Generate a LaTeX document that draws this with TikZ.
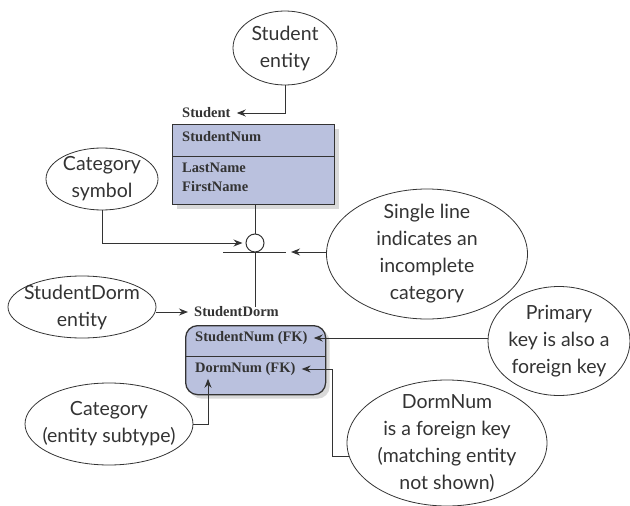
\documentclass[tikz,border=0pt]{standalone}
\usepackage{fontspec}
\usepackage{xcolor}
\usepackage{tikz}
\usetikzlibrary{positioning, arrows.meta, shapes.geometric, shadows}
\newfontfamily\notefont{Lato}
\newfontfamily\entfont{Liberation Serif}
\definecolor{EntityFill}{RGB}{186,193,222}
\definecolor{nInk}{HTML}{333333}

\begin{document}
\begin{tikzpicture}[x=1pt, y=-1pt, >=Stealth,
    note/.style={draw=nInk, line width=0.8pt, ellipse, inner sep=-15pt, align=center, text=nInk, font=\notefont\fontsize{19.5}{27}\selectfont},
    attr/.style={anchor=west, inner xsep=3pt, inner ysep=0pt, text=nInk, font=\entfont\bfseries\fontsize{14.5}{16}\selectfont},
    box/.style={draw=nInk, line width=1.3pt, fill=EntityFill, anchor=north west, drop shadow={shadow xshift=4pt, shadow yshift=-4pt, opacity=0.3}},
    arr/.style={line width=1pt, nInk, shorten >=3pt, -{Stealth[length=9pt, width=7pt]}},
    link/.style={line width=1pt, nInk}]
  \useasboundingbox (0,0) rectangle (630,506);
  % notes
  \node[note, minimum width=104, minimum height=74] (stuNote) at (285,48) {Student\\entity};
  \node[note, minimum width=112, minimum height=62] (catNote) at (102,179) {Category\\symbol};
  \node[note, minimum width=201, minimum height=130] (singleNote) at (427,254) {Single line\\indicates an\\incomplete\\category};
  \node[note, minimum width=148, minimum height=62] (dormNote) at (82,307) {StudentDorm\\entity};
  \node[note, minimum width=142, minimum height=109] (pkNote) at (559,341) {Primary\\key is also a\\foreign key};
  \node[note, minimum width=200, minimum height=126] (fkNote) at (447,443) {DormNum\\is a foreign key\\(matching entity\\not shown)};
  \node[note, minimum width=168, minimum height=82] (subNote) at (109,424) {Category\\(entity subtype)};
  % Student entity
  \node[box, minimum width=162, minimum height=80] (stu) at (172,124) {};
  \coordinate (stuDiv) at (172,156);
  \draw[link] (stuDiv) -- (stuDiv -| stu.east);
  \node[attr] (stuLabel) at (179,113) {Student};
  \node[attr] (stuKey) at (179,137) {StudentNum};
  \node[attr] (stuLast) at (179,168) {LastName};
  \node[attr] (stuFirst) at (179,187) {FirstName};
  % StudentDorm entity
  \node[box, rounded corners=12pt, minimum width=140, minimum height=69] (dorm) at (185,325) {};
  \coordinate (dormDiv) at (185,356);
  \draw[link] (dormDiv) -- (dormDiv -| dorm.east);
  \node[attr] (dormLabel) at (191,312) {StudentDorm};
  \node[attr] (dormKey) at (192,338) {StudentNum (FK)};
  \node[attr] (dormFk) at (192,369) {DormNum (FK)};
  % category symbol
  \node[draw=nInk, line width=1pt, circle, fill=white, minimum size=18, inner sep=0pt] (circ) at (255,243) {};
  \coordinate (barL) at (223,252);
  \coordinate (barR) at (286,252);
  \draw[link] (stu.south -| circ) -- (circ.north);
  \draw[link] (circ.south) -- (circ |- dormLabel.north);
  \draw[link] (barL) -- (barR);
  % pointers
  \draw[arr] (stuNote.south) |- (stuLabel.east);
  \draw[arr] (catNote.south) |- (circ.west);
  \draw[arr, shorten >=5pt] (singleNote.west |- barR) -- (barR);
  \draw[arr] (dormNote.east |- dormLabel) -- (dormLabel);
  \draw[arr] (pkNote.west |- dormKey) -- (dormKey.east);
  \draw[arr] (fkNote.188) -- ++(-17,0) |- (dormFk.east);
  \draw[arr] (subNote.east) -| ([xshift=16pt]dormFk.south west);
\end{tikzpicture}
\end{document}
